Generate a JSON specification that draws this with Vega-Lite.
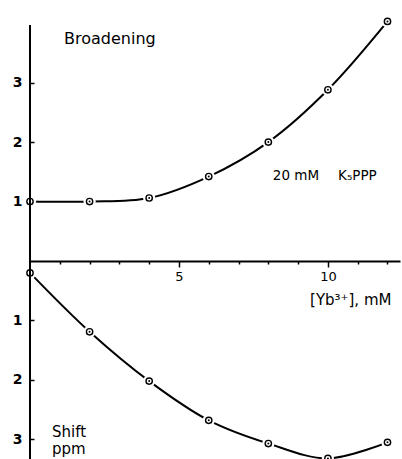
{
  "$schema": "https://vega.github.io/schema/vega-lite/v6.json",
  "autosize": "none",
  "padding": {"left": 30, "top": 0, "right": 2, "bottom": 0},
  "width": 370,
  "height": 459,
  "background": "white",
  "config": {"view": {"stroke": null}, "font": "DejaVu Sans"},
  "datasets": {
    "pts": [
      {"mM": 0, "y": 1.0, "series": "Broadening"},
      {"mM": 2, "y": 1.0, "series": "Broadening"},
      {"mM": 4, "y": 1.06, "series": "Broadening"},
      {"mM": 6, "y": 1.42, "series": "Broadening"},
      {"mM": 8, "y": 2.0, "series": "Broadening"},
      {"mM": 10, "y": 2.88, "series": "Broadening"},
      {"mM": 12, "y": 4.03, "series": "Broadening"},
      {"mM": 0, "y": -0.2, "series": "Shift"},
      {"mM": 2, "y": -1.19, "series": "Shift"},
      {"mM": 4, "y": -2.02, "series": "Shift"},
      {"mM": 6, "y": -2.68, "series": "Shift"},
      {"mM": 8, "y": -3.07, "series": "Shift"},
      {"mM": 10, "y": -3.32, "series": "Shift"},
      {"mM": 12, "y": -3.05, "series": "Shift"}
    ],
    "one": [{"k": 1}]
  },
  "layer": [
    {"data": {"name": "pts"},
     "encoding": {
       "x": {"field": "mM", "type": "quantitative", "scale": {"domain": [0, 12.42], "nice": false, "zero": false},
         "axis": {"orient": "bottom", "offset": -198, "title": null, "values": [1,2,3,4,5,6,7,8,9,10,11,12], "labelExpr": "datum.value == 5 || datum.value == 10 ? '' + datum.value : ''", "tickSize": {"expr": "datum.value == 5 || datum.value == 10 ? 6 : 3"}, "domainColor": "black", "domainWidth": 2, "tickColor": "black", "tickWidth": 1.5, "labelColor": "black", "labelFontSize": 13, "labelFont": "DejaVu Sans", "labelPadding": 3, "grid": false}},
       "y": {"field": "y", "type": "quantitative", "scale": {"domain": [-3.33, 4.39], "nice": false, "zero": false},
         "axis": {"title": null, "values": [-3,-2,-1,1,2,3], "domain": false, "grid": false, "labelExpr": "'' + abs(datum.value)", "tickSize": -4, "tickColor": "black", "tickWidth": 1.5, "labelColor": "black", "labelFontSize": 14, "labelFontWeight": "bold", "labelFont": "DejaVu Sans", "labelPadding": 12}}
     },
     "layer": [
       {"mark": {"type": "line", "interpolate": "catmull-rom", "color": "black", "strokeWidth": 2},
        "encoding": {"detail": {"field": "series"}}},
       {"mark": {"type": "point", "filled": true, "color": "white", "opacity": 1, "size": 150, "shape": "circle"}},
       {"mark": {"type": "point", "filled": false, "color": "black", "opacity": 1, "size": 40, "strokeWidth": 1.4, "shape": "circle"}},
       {"mark": {"type": "point", "filled": true, "color": "black", "opacity": 1, "size": 4, "shape": "circle"}}
     ]},
    {"data": {"name": "one"},
     "encoding": {
       "x": {"datum": 0, "type": "quantitative", "scale": {"domain": [0, 12.42], "nice": false, "zero": false},
         "axis": {"orient": "bottom", "offset": -198, "title": null, "values": [1,2,3,4,5,6,7,8,9,10,11,12], "labelExpr": "datum.value == 5 || datum.value == 10 ? '' + datum.value : ''", "tickSize": {"expr": "datum.value == 5 || datum.value == 10 ? 6 : 3"}, "domainColor": "black", "domainWidth": 2, "tickColor": "black", "tickWidth": 1.5, "labelColor": "black", "labelFontSize": 13, "labelFont": "DejaVu Sans", "labelPadding": 3, "grid": false}},
       "y": {"datum": 3.97, "type": "quantitative", "scale": {"domain": [-3.33, 4.39], "nice": false, "zero": false},
         "axis": {"title": null, "values": [-3,-2,-1,1,2,3], "domain": false, "grid": false, "labelExpr": "'' + abs(datum.value)", "tickSize": -4, "tickColor": "black", "tickWidth": 1.5, "labelColor": "black", "labelFontSize": 14, "labelFontWeight": "bold", "labelFont": "DejaVu Sans", "labelPadding": 12}},
       "y2": {"datum": -3.4}},
     "layer": [
       {"mark": {"type": "rule", "color": "black", "strokeWidth": 2}},
       {"mark": {"type": "text", "text": "Broadening", "fontSize": 16, "align": "center", "baseline": "middle", "color": "black"},
        "encoding": {"x": {"datum": 2.68, "type": "quantitative"}, "y": {"datum": 3.73, "type": "quantitative"}, "y2": null}},
       {"mark": {"type": "text", "text": "20 mM", "fontSize": 13.5, "align": "left", "baseline": "middle", "color": "black"},
        "encoding": {"x": {"datum": 8.15, "type": "quantitative"}, "y": {"datum": 1.43, "type": "quantitative"}, "y2": null}},
       {"mark": {"type": "text", "text": "K₅PPP", "fontSize": 13.5, "align": "left", "baseline": "middle", "color": "black"},
        "encoding": {"x": {"datum": 10.34, "type": "quantitative"}, "y": {"datum": 1.43, "type": "quantitative"}, "y2": null}},
       {"mark": {"type": "text", "text": "[Yb³⁺],  mM", "fontSize": 15, "align": "left", "baseline": "middle", "color": "black"},
        "encoding": {"x": {"datum": 9.4, "type": "quantitative"}, "y": {"datum": -0.66, "type": "quantitative"}, "y2": null}},
       {"mark": {"type": "text", "text": "Shift", "fontSize": 15, "align": "left", "baseline": "middle", "color": "black"},
        "encoding": {"x": {"datum": 0.74, "type": "quantitative"}, "y": {"datum": -2.87, "type": "quantitative"}, "y2": null}},
       {"mark": {"type": "text", "text": "ppm", "fontSize": 15, "align": "left", "baseline": "middle", "color": "black"},
        "encoding": {"x": {"datum": 0.74, "type": "quantitative"}, "y": {"datum": -3.16, "type": "quantitative"}, "y2": null}}
     ]}
  ]
}
